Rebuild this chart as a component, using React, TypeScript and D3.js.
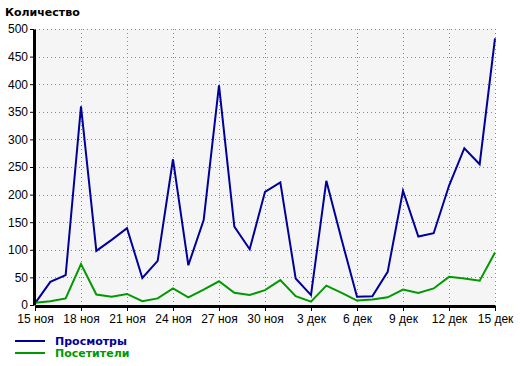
import React, { useEffect, useRef } from 'react';
import * as d3 from 'd3';

// daily values, 15 ноя .. 15 дек
const views = [3, 42, 54, 360, 98, 118, 139, 49, 80, 264, 72, 154, 398, 142, 101, 205,
  222, 48, 18, 225, 118, 15, 16, 60, 207, 124, 130, 216, 284, 255, 483];
const visitors = [4, 7, 12, 74, 19, 15, 20, 7, 12, 30, 14, 28, 43, 22, 18, 27,
  45, 16, 6, 35, 22, 8, 10, 14, 28, 22, 30, 51, 48, 44, 95];
const tickLabels = ['15 ноя', '18 ноя', '21 ноя', '24 ноя', '27 ноя', '30 ноя',
  '3 дек', '6 дек', '9 дек', '12 дек', '15 дек'];
const yTicks = [0, 50, 100, 150, 200, 250, 300, 350, 400, 450, 500];
const seriesNames = ['Просмотры', 'Посетители'];
const colors = ['#000099', '#009900'];

const App = () => {
  const svgRef = useRef<SVGSVGElement>(null);

  useEffect(() => {
    const width = 520;
    const height = 366;
    const marginLeft = 35;
    const marginRight = 25;
    const marginTop = 29;
    const plotBottom = 305;

    const x = d3.scaleLinear().domain([0, views.length - 1]).range([marginLeft, width - marginRight]);
    const y = d3.scaleLinear().domain([0, 500]).range([plotBottom, marginTop]);

    const svg = d3.select(svgRef.current);
    svg.selectAll('*').remove();
    svg.attr('width', width).attr('height', height);

    svg.append('rect').attr('width', width).attr('height', height).attr('fill', '#fff');

    // plot background
    svg.append('rect')
      .attr('x', x(0)).attr('y', y(500))
      .attr('width', x(30) - x(0)).attr('height', y(0) - y(500))
      .attr('fill', '#f5f5f5');

    // grid
    const grid = svg.append('g')
      .attr('stroke', '#888')
      .attr('stroke-dasharray', '1,3')
      .attr('shape-rendering', 'crispEdges');
    yTicks.filter(d => d > 0).forEach(v => {
      grid.append('line')
        .attr('x1', x(0)).attr('x2', x(30))
        .attr('y1', Math.round(y(v)) + 0.5).attr('y2', Math.round(y(v)) + 0.5);
    });
    tickLabels.forEach((_, i) => {
      if (i === 0) return;
      const xv = Math.round(x(i * 3)) + 0.5;
      grid.append('line')
        .attr('x1', xv).attr('x2', xv)
        .attr('y1', y(500)).attr('y2', y(0));
    });

    // lines
    const line = d3.line<number>().x((_, i) => x(i)).y(d => y(d));
    [views, visitors].forEach((s, k) => {
      svg.append('path')
        .datum(s)
        .attr('d', line)
        .attr('fill', 'none')
        .attr('stroke', colors[k])
        .attr('stroke-width', 2)
        .attr('stroke-linejoin', 'miter');
    });

    // axes
    const yAxis = svg.append('g')
      .attr('transform', `translate(${marginLeft - 1},0)`)
      .call(d3.axisLeft(y).tickValues(yTicks).tickSize(4).tickSizeOuter(0))
      .call(g => g.select('.domain').attr('stroke-width', 3))
      .call(g => g.selectAll('.tick line').attr('stroke-width', 1))
      .call(g => g.selectAll('text')
        .attr('font-family', '"Liberation Sans", Arial, sans-serif')
        .attr('font-size', 12)
        .attr('fill', '#000')
        .attr('x', -6));
    yAxis.attr('font-family', null);

    svg.append('g')
      .attr('transform', `translate(0,${plotBottom + 1})`)
      .call(d3.axisBottom(x)
        .tickValues(tickLabels.map((_, i) => i * 3))
        .tickFormat((_, i) => tickLabels[i])
        .tickSize(5)
        .tickSizeOuter(0))
      .call(g => g.select('.domain').attr('stroke-width', 3))
      .call(g => g.selectAll('text')
        .attr('font-family', '"Liberation Sans", Arial, sans-serif')
        .attr('font-size', 12)
        .attr('fill', '#000')
        .attr('y', 8));

    // title
    svg.append('text')
      .attr('x', 5).attr('y', 16)
      .attr('font-family', '"DejaVu Sans", Verdana, sans-serif')
      .attr('font-weight', 'bold')
      .attr('font-size', 11)
      .text('Количество');

    // legend
    seriesNames.forEach((name, k) => {
      const ly = 341 + k * 12;
      svg.append('line')
        .attr('x1', 15).attr('x2', 45)
        .attr('y1', ly).attr('y2', ly)
        .attr('stroke', colors[k]).attr('stroke-width', 2);
      svg.append('text')
        .attr('x', 55).attr('y', ly + 4)
        .attr('font-family', '"DejaVu Sans", Verdana, sans-serif')
        .attr('font-weight', 'bold')
        .attr('font-size', 11)
        .attr('fill', colors[k])
        .text(name);
    });
  }, []);

  return (
    <div style={{ position: 'absolute', left: 0, top: 0 }}>
      <svg ref={svgRef} style={{ display: 'block' }} />
    </div>
  );
};

export default App;
